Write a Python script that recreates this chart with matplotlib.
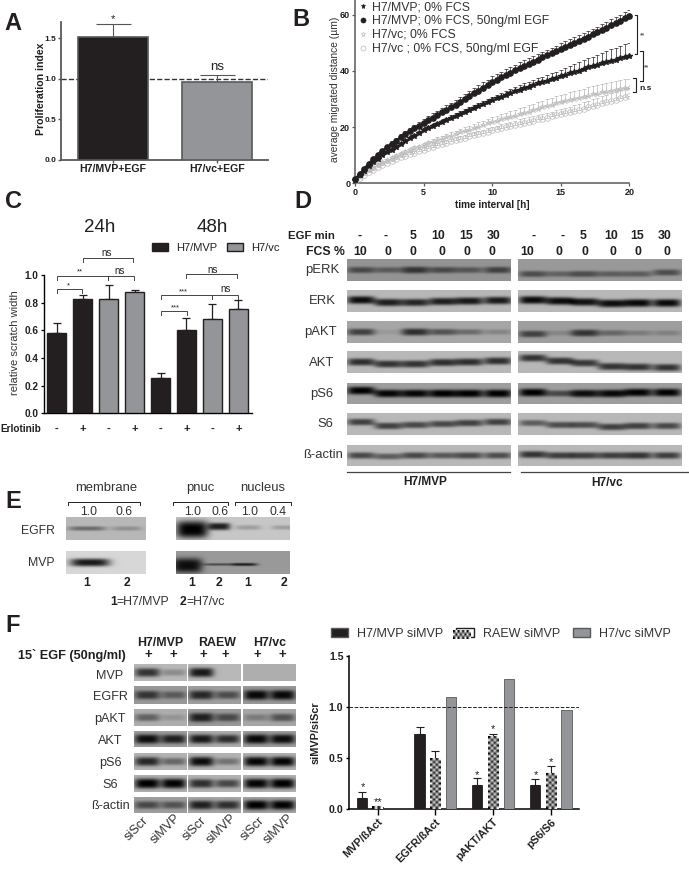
import matplotlib
matplotlib.use("Agg")
import matplotlib.pyplot as plt
from matplotlib.patches import Patch
import numpy as np

plt.rcParams['font.family'] = ['Liberation Sans', 'DejaVu Sans']

W, H = 689, 874
BLACK = '#231f20'
GREY = '#939598'
EDGE = '#414042'

# panel A
a_labels = ['H7/MVP+EGF', 'H7/vc+EGF']
a_values = [1.51, 0.96]
a_errors = [0.17, 0.085]

# panel B, one point every 20 min
b_time = np.arange(61) / 3
b_mvp = [1.0, 2.8, 4.5, 6.0, 7.4, 8.8, 10.0, 11.0, 12.0, 13.0, 14.0, 15.0, 16.0, 17.0, 17.9, 18.8,
         19.5, 20.3, 21.0, 21.8, 22.5, 23.3, 24.0, 24.8, 25.5, 26.2, 26.8, 27.5, 28.2, 28.8, 29.5,
         30.2, 30.8, 31.5, 32.1, 32.7, 33.3, 33.9, 34.4, 35.0, 35.5, 36.0, 36.5, 37.0, 37.5, 38.0,
         38.5, 39.1, 39.6, 40.1, 40.7, 41.2, 41.7, 42.2, 42.7, 43.1, 43.6, 44.0, 44.4, 44.9, 45.3]
b_mvp_err = [0.1, 0.2, 0.2, 0.3, 0.3, 0.4, 0.4, 0.5, 0.5, 0.5, 0.6, 0.6, 0.6, 0.7, 0.7, 0.7,
             0.8, 0.8, 0.8, 0.8, 0.9, 0.9, 0.9, 0.9, 1.0, 1.0, 1.0, 1.0, 1.1, 1.1, 1.1,
             1.2, 1.3, 1.3, 1.4, 1.5, 1.5, 1.6, 1.7, 1.7, 1.8, 1.9, 2.0, 2.1, 2.2, 2.4,
             2.5, 2.6, 2.7, 2.9, 3.0, 3.2, 3.4, 3.5, 3.7, 3.9, 4.0, 4.2, 4.3, 4.5, 4.6]
b_mvp_egf = [1.5, 3.2, 5.2, 7.0, 8.6, 10.1, 11.5, 12.8, 14.0, 15.2, 16.3, 17.4, 18.5, 19.5, 20.5, 21.5,
             22.4, 23.4, 24.3, 25.2, 26.1, 27.0, 28.0, 29.0, 30.0, 31.0, 32.0, 33.0, 34.0, 35.0, 36.0,
             36.8, 37.7, 38.5, 39.3, 40.2, 41.0, 41.8, 42.5, 43.3, 44.0, 44.8, 45.5, 46.3, 47.0, 47.8,
             48.5, 49.3, 50.0, 50.7, 51.5, 52.2, 53.0, 53.7, 54.5, 55.3, 56.2, 57.0, 57.8, 58.7, 59.5]
b_mvp_egf_err = [0.2, 0.3, 0.4, 0.5, 0.6, 0.7, 0.8, 0.9, 1.0, 1.0, 1.1, 1.2, 1.2, 1.3, 1.3, 1.4,
                 1.4, 1.5, 1.5, 1.6, 1.6, 1.7, 1.7, 1.7, 1.8, 1.8, 1.8, 1.9, 1.9, 1.9, 2.0,
                 2.0, 2.0, 2.0, 2.0, 2.0, 2.0, 2.0, 2.0, 2.0, 2.0, 2.0, 2.0, 2.0, 2.0, 2.0,
                 2.0, 2.0, 2.0, 2.0, 2.0, 2.0, 2.0, 2.0, 2.1, 2.1, 2.1, 2.1, 2.2, 2.2, 2.2]
b_vc = [0.8, 2.2, 3.6, 4.8, 5.8, 6.7, 7.5, 8.3, 9.1, 9.8, 10.5, 11.2, 11.8, 12.4, 13.0, 13.6,
        14.2, 14.8, 15.4, 15.9, 16.5, 17.0, 17.5, 18.1, 18.6, 19.1, 19.7, 20.2, 20.7, 21.3, 21.8,
        22.3, 22.7, 23.2, 23.7, 24.1, 24.6, 25.1, 25.5, 26.0, 26.5, 27.0, 27.5, 27.9, 28.4, 28.8,
        29.2, 29.6, 30.0, 30.4, 30.8, 31.2, 31.6, 31.9, 32.3, 32.6, 32.9, 33.2, 33.5, 33.8, 34.0]
b_vc_err = [0.1, 0.2, 0.2, 0.3, 0.3, 0.4, 0.4, 0.5, 0.5, 0.6, 0.6, 0.6, 0.7, 0.7, 0.8, 0.9,
            0.9, 1.0, 1.0, 1.1, 1.1, 1.2, 1.2, 1.3, 1.3, 1.4, 1.4, 1.5, 1.6, 1.7, 1.8,
            1.8, 1.9, 1.9, 2.0, 2.0, 2.1, 2.1, 2.2, 2.2, 2.3, 2.3, 2.4, 2.5, 2.5, 2.6,
            2.6, 2.7, 2.7, 2.8, 2.8, 2.9, 2.9, 3.0, 3.0, 3.0, 3.1, 3.1, 3.1, 3.2, 3.2]
b_vc_egf = [0.6, 1.8, 3.0, 4.0, 4.9, 5.7, 6.5, 7.2, 7.9, 8.6, 9.2, 9.8, 10.4, 10.9, 11.5, 12.0,
            12.5, 13.0, 13.5, 14.0, 14.4, 14.9, 15.3, 15.8, 16.2, 16.7, 17.1, 17.5, 17.9, 18.4, 18.8,
            19.2, 19.6, 20.0, 20.4, 20.8, 21.2, 21.6, 21.9, 22.3, 22.7, 23.0, 23.4, 23.8, 24.2, 24.6,
            25.0, 25.4, 25.8, 26.2, 26.6, 27.0, 27.5, 27.9, 28.4, 28.8, 29.3, 29.7, 30.2, 30.6, 31.0]
b_vc_egf_err = [0.1, 0.2, 0.2, 0.2, 0.3, 0.3, 0.3, 0.4, 0.4, 0.4, 0.5, 0.5, 0.6, 0.6, 0.7, 0.8,
                0.8, 0.8, 0.9, 0.9, 0.9, 1.0, 1.0, 1.0, 1.1, 1.1, 1.1, 1.2, 1.2, 1.3, 1.3,
                1.3, 1.4, 1.4, 1.4, 1.5, 1.5, 1.5, 1.6, 1.6, 1.6, 1.7, 1.7, 1.7, 1.8, 1.8,
                1.9, 1.9, 2.0, 2.1, 2.2, 2.3, 2.4, 2.5, 2.6, 2.7, 2.8, 2.8, 2.9, 3.0, 3.0]

# panel C
c_values = [0.58, 0.83, 0.83, 0.88, 0.255, 0.60, 0.68, 0.755]
c_errors = [0.07, 0.025, 0.095, 0.015, 0.035, 0.09, 0.11, 0.065]
c_colors = [BLACK, BLACK, GREY, GREY, BLACK, BLACK, GREY, GREY]
c_erlotinib = ['-', '+', '-', '+', '-', '+', '-', '+']

# panel F chart
f_groups = ['MVP/ßAct', 'EGFR/ßAct', 'pAKT/AKT', 'pS6/S6']
f_mvp = [0.115, 0.735, 0.24, 0.235]
f_mvp_err = [0.05, 0.065, 0.065, 0.065]
f_raew = [0.025, 0.49, 0.71, 0.35]
f_raew_err = [0.005, 0.075, 0.025, 0.07]
f_vc = [0.0, 1.10, 1.275, 0.965]

# blots, grey level of each band
d_rows = ['pERK', 'ERK', 'pAKT', 'AKT', 'pS6', 'S6', 'ß-actin']
d_bg_left = [0.58, 0.72, 0.65, 0.72, 0.62, 0.72, 0.72]
d_bg_right = [0.60, 0.72, 0.62, 0.72, 0.62, 0.72, 0.72]
d_left = [[0.28, 0.35, 0.20, 0.28, 0.33, 0.25],
          [0.05, 0.12, 0.15, 0.12, 0.10, 0.10],
          [0.25, 0.60, 0.18, 0.32, 0.42, 0.52],
          [0.18, 0.20, 0.20, 0.18, 0.18, 0.18],
          [0.00, 0.02, 0.02, 0.00, 0.00, 0.00],
          [0.25, 0.25, 0.28, 0.28, 0.25, 0.25],
          [0.28, 0.36, 0.28, 0.34, 0.28, 0.30]]
d_right = [[0.30, 0.38, 0.30, 0.36, 0.36, 0.30],
           [0.04, 0.05, 0.07, 0.05, 0.03, 0.04],
           [0.25, 0.52, 0.20, 0.40, 0.48, 0.50],
           [0.20, 0.20, 0.22, 0.20, 0.20, 0.20],
           [0.00, 0.28, 0.05, 0.03, 0.01, 0.01],
           [0.36, 0.30, 0.30, 0.25, 0.25, 0.28],
           [0.20, 0.24, 0.24, 0.24, 0.20, 0.24]]
# how far each band sits from the middle of its strip
d_shift_left = [[0, 0, 0, 0, 0, 0], [-1, 1.5, 1.5, 0.5, 0, -0.5], [0, 0, 0, 0, 0, 0], [0, 2, 2, 0.5, 0, -1],
                [-3, 0, 0, 0, 0, 0], [-2, 2, 1, 0, -1, -2], [0, 1, 0, 0, 0, 0]]
d_shift_right = [[4, 4, 4, 4, 4, 2.5], [-1, 0, 1, 2.5, 2, 2], [2, 1, 1, 1, 1, 1], [-4, -1, 1, 4.5, 5, 5.5],
                 [-1, 0, 0, 0, -1, -1], [-1, 1, 1, 3, 2, 2], [-1, 0, 0, 0, 0, 0]]
d_egf = ['-', '-', '5', '10', '15', '30']
d_fcs = ['10', '0', '0', '0', '0', '0']

f_rows = ['MVP', 'EGFR', 'pAKT', 'AKT', 'pS6', 'S6', 'ß-actin']
f_bg = [[0.72, 0.72, 0.68], [0.60, 0.62, 0.60], [0.68, 0.60, 0.65], [0.62, 0.68, 0.62],
        [0.70, 0.70, 0.70], [0.70, 0.70, 0.70], [0.62, 0.65, 0.65]]
f_bands = [[[0.20, 0.55], [0.10, 0.72], [0.68, 0.68]],
           [[0.20, 0.35], [0.15, 0.30], [0.03, 0.03]],
           [[0.38, 0.58], [0.12, 0.28], [0.48, 0.32]],
           [[0.05, 0.12], [0.10, 0.18], [0.03, 0.05]],
           [[0.15, 0.40], [0.05, 0.45], [0.02, 0.02]],
           [[0.00, 0.01], [0.18, 0.28], [0.02, 0.00]],
           [[0.28, 0.32], [0.12, 0.18], [0.00, 0.01]]]

fig = plt.figure(figsize=(W / 100, H / 100), dpi=100)

over = fig.add_axes([0, 0, 1, 1], zorder=5)
over.axis('off')


def px_axes(x0, y0, x1, y1):
    # axes from pixel box of the picture, y counted from the top
    ax = fig.add_axes([x0 / W, 1 - y1 / H, (x1 - x0) / W, (y1 - y0) / H])
    ax.patch.set_alpha(0)
    ax.spines[['top', 'right']].set_visible(False)
    return ax


def label(x, y, s, size=8, weight='normal', color=BLACK, ha='center', rot=0):
    over.text(x, y, s, fontsize=size, fontweight=weight, color=color, ha=ha, va='center',
              rotation=rot, rotation_mode='anchor')


def bracket(x0, x1, y, drop=4, color='#444444'):
    over.plot([x0, x0, x1, x1], [y + drop, y, y, y + drop], color=color, lw=0.7, solid_joinstyle='miter')


def blot(x0, y0, x1, y1, bg, grays, centers=None, sig=3.6, hw=None, sigs=None, shifts=None):
    w = int((x1 - x0) * 2)
    h = int((y1 - y0) * 2)
    xx = np.linspace(x0, x1, w)
    yy = np.linspace(y0, y1, h)
    n = len(grays)
    step = (x1 - x0) / n
    if centers is None:
        centers = [x0 + step * (i + 0.5) for i in range(n)]
    if hw is None:
        hw = step * 0.47
    img = np.full((h, w), float(bg))
    yc = (y0 + y1) / 2
    for i, g in enumerate(grays):
        # pale bands are thinner than the dark ones
        s = sig * (0.62 + 0.5 * (1 - g / bg)) if sigs is None else sigs[i]
        hwi = hw if np.isscalar(hw) else hw[i]
        dy = 0 if shifts is None else shifts[i]
        xp = np.exp(-((xx - centers[i]) / hwi) ** 4)
        yp = np.exp(-np.abs((yy - yc - dy) / s) ** 3)
        img += (g - bg) * np.outer(yp, xp)
    over.imshow(np.clip(img, 0, 1), extent=(x0, x1, y1, y0), cmap='gray', vmin=0, vmax=1,
                aspect='auto', interpolation='bilinear')


# A
ax_a = px_axes(61, 22, 268, 159.5)
ax_a.axhline(1.0, color='#333333', lw=1.0, ls='--', zorder=1)
ax_a.errorbar([0, 1], a_values, yerr=[[0, 0], a_errors], fmt='none', ecolor='#555555', elinewidth=0.8,
              capsize=12.6, capthick=0.8, zorder=2)
ax_a.bar([0, 1], a_values, width=0.67, color=[BLACK, GREY], edgecolor='#58595b', linewidth=1.2, zorder=3)
ax_a.set_xlim(-0.5, 1.49)
ax_a.set_ylim(0, 1.70)
ax_a.set_yticks([0, 0.5, 1.0, 1.5])
ax_a.set_yticklabels(['0.0', '0.5', '1.0', '1.5'], fontsize=6, fontweight='bold', color=BLACK)
ax_a.set_xticks([0, 1])
ax_a.set_xticklabels(a_labels, fontsize=7.6, fontweight='bold', color=BLACK)
ax_a.tick_params(length=2, width=1, pad=1.5, color='#58595b')
ax_a.spines[['left', 'bottom']].set_linewidth(1.3)
ax_a.spines[['left', 'bottom']].set_color('#58595b')
label(40.7, 89, 'Proliferation index', 7.6, 'bold', rot=90)
label(113, 19, '*', 8)
label(216.7, 66.5, 'ns', 9.5)

# B
ax_b = px_axes(355, 0, 629.3, 183.3)
vc_grey = '#b8b8b8'
ax_b.errorbar(b_time, b_vc, yerr=[np.zeros(61), b_vc_err], fmt='none', ecolor=vc_grey, elinewidth=0.5,
              capsize=1.6, capthick=0.5, zorder=2)
ax_b.errorbar(b_time, b_vc_egf, yerr=[np.zeros(61), b_vc_egf_err], fmt='none', ecolor=vc_grey, elinewidth=0.5,
              capsize=1.6, capthick=0.5, zorder=2)
ax_b.plot(b_time, b_vc, ls='none', marker='*', ms=4.4, mfc='none', mec=vc_grey, mew=0.5, zorder=3,
          label='H7/vc; 0% FCS')
ax_b.plot(b_time, b_vc_egf, ls='none', marker='o', ms=4, mfc='none', mec=vc_grey, mew=0.5, zorder=3,
          label='H7/vc ; 0% FCS, 50ng/ml EGF')
ax_b.errorbar(b_time, b_mvp, yerr=[np.zeros(61), b_mvp_err], fmt='none', ecolor=BLACK, elinewidth=0.5,
              capsize=1.6, capthick=0.5, zorder=4)
ax_b.errorbar(b_time, b_mvp_egf, yerr=[np.zeros(61), b_mvp_egf_err], fmt='none', ecolor=BLACK, elinewidth=0.5,
              capsize=1.6, capthick=0.5, zorder=4)
ax_b.plot(b_time, b_mvp, ls='-', lw=1.0, marker='*', ms=4.4, color=BLACK, zorder=5, clip_on=False,
          label='H7/MVP; 0% FCS')
ax_b.plot(b_time, b_mvp_egf, ls='-', lw=1.6, marker='o', ms=3.8, color=BLACK, zorder=5, clip_on=False,
          label='H7/MVP; 0% FCS, 50ng/ml EGF')
ax_b.set_xlim(0, 20)
ax_b.set_ylim(0, 65.2)
ax_b.set_xticks([0, 5, 10, 15, 20])
ax_b.set_yticks([0, 20, 40, 60])
ax_b.tick_params(length=2, width=0.9, pad=1.5, labelsize=6.5, color='#58595b', labelcolor=BLACK)
plt.setp(ax_b.get_xticklabels() + ax_b.get_yticklabels(), fontweight='bold')
ax_b.spines[['left', 'bottom']].set_linewidth(1.1)
ax_b.spines[['left', 'bottom']].set_color('#58595b')
handles, labels = ax_b.get_legend_handles_labels()
order = [2, 3, 0, 1]
b_handles = [plt.Line2D([], [], ls='none', marker=handles[i].get_marker(), ms=3.6, mfc=handles[i].get_mfc(),
                        mec=handles[i].get_mec(), mew=0.5) for i in order]
ax_b.legend(b_handles, [labels[i] for i in order], loc='upper left',
            bbox_to_anchor=(357, 1), bbox_transform=over.transData, fontsize=8.8, frameon=False,
            borderpad=0, borderaxespad=0, labelspacing=0.16, handlelength=0.9, handletextpad=0.3,
            labelcolor='#333333')
label(335, 89, 'average migrated distance (µm)', 7.4, color='#333333', rot=90)
label(492, 205, 'time interval [h]', 7.2, 'bold')
for bx0, bx1, by0, by1 in [(635, 637, 15, 54), (640, 642.5, 51, 81), (632.5, 635.5, 78, 92)]:
    over.plot([bx0, bx1, bx1, bx0], [by0, by0, by1, by1], color=BLACK, lw=0.8)
label(642.5, 36, '**', 5)
label(647, 68, '**', 5)
label(646, 88, 'n.s', 6, 'bold')

# C
ax_c = px_axes(44, 260, 252, 413.3)
c_x = np.arange(8)
ax_c.errorbar(c_x, c_values, yerr=[np.zeros(8), c_errors], fmt='none', ecolor=BLACK, elinewidth=0.9,
              capsize=3.2, capthick=0.9, zorder=2)
ax_c.bar(c_x, c_values, width=0.7, color=c_colors, edgecolor=BLACK, linewidth=1.0, zorder=3)
ax_c.set_xlim(-12.5 / 26, 7 + 13.5 / 26)
ax_c.set_ylim(0, 153.3 / 138.3)
ax_c.set_yticks([0, 0.2, 0.4, 0.6, 0.8, 1.0])
ax_c.set_yticklabels(['0.0', '0.2', '0.4', '0.6', '0.8', '1.0'], fontsize=7.2, fontweight='bold', color=BLACK)
ax_c.set_xticks(c_x)
ax_c.set_xticklabels(c_erlotinib, fontsize=8, fontweight='bold', color=BLACK)
ax_c.tick_params(axis='y', length=2.5, width=0.9, pad=1.5)
ax_c.tick_params(axis='x', length=0, pad=7.5)
ax_c.spines['left'].set_bounds(0, 1.0)
ax_c.spines[['left', 'bottom']].set_linewidth(1.0)
ax_c.legend(handles=[Patch(facecolor=BLACK, edgecolor=BLACK, label='H7/MVP'),
                     Patch(facecolor=GREY, edgecolor=BLACK, label='H7/vc')],
            loc='center left', bbox_to_anchor=(152, 248), bbox_transform=over.transData, ncol=2,
            fontsize=8, frameon=False, borderpad=0, borderaxespad=0, handlelength=1.45, handleheight=0.8,
            handletextpad=0.7, columnspacing=0.9, labelcolor=BLACK)
label(15, 343, 'relative scratch width', 8, color='#333333', rot=90)
label(21, 429, 'Erlotinib', 7.2, 'bold')
label(100, 227, '24h', 13.5)
label(212.7, 227, '48h', 13.5)
bracket(83, 133, 258)
bracket(57, 108, 276)
bracket(108, 134, 276)
bracket(57, 82, 288.7)
bracket(186, 236.7, 274.3)
bracket(161, 211.7, 294.7)
bracket(212, 238, 294.7)
bracket(161, 186.7, 310.7)
label(107, 253, 'ns', 7)
label(120, 271, 'ns', 7)
label(213, 270, 'ns', 7)
label(225.7, 289, 'ns', 7)
label(80, 272, '**', 5.5)
label(68, 285.5, '*', 5.5)
label(183, 292, '***', 5.5)
label(175, 308, '***', 5.5)

# D
d_y = [(259.3, 280.7), (290, 311.7), (321.3, 342.7), (352, 373.3), (383.3, 404.3), (413, 435), (445, 466)]
d_label_x = [322, 322, 320.5, 322, 322, 325.5, 323]
d_centers_l = [360.7, 388, 415, 442.7, 469, 498]
d_centers_r = [533, 560, 585, 612, 638, 667]
for i, name in enumerate(d_rows):
    y0, y1 = d_y[i]
    blot(346.7, y0, 510.7, y1, d_bg_left[i], d_left[i], centers=d_centers_l, hw=14, shifts=d_shift_left[i])
    blot(518.3, y0, 681.7, y1, d_bg_right[i], d_right[i], centers=d_centers_r, hw=14, shifts=d_shift_right[i])
    label(d_label_x[i], (y0 + y1) / 2, name, 9.4, color='#333333')
label(311.5, 236, 'EGF min', 8.2, 'bold')
label(325, 251.7, 'FCS %', 8.8, 'bold')
d_egf_x = [360, 386, 412.7, 437.7, 466, 494, 533.3, 562.7, 582.7, 611, 636.7, 665]
d_fcs_x = [360, 387.7, 413, 441.7, 466.7, 491.7, 527, 559, 585, 613, 638, 667]
for x, s in zip(d_egf_x, d_egf + d_egf):
    label(x, 236, s, 8.8, 'bold')
for x, s in zip(d_fcs_x, d_fcs + d_fcs):
    label(x, 251.7, s, 8.8, 'bold')
over.plot([346.7, 510], [471.7, 471.7], color='#444444', lw=0.9)
over.plot([521, 688], [471.7, 471.7], color='#444444', lw=0.9)
label(425, 482, 'H7/MVP', 8.6, 'bold')
label(606.7, 483, 'H7/vc', 8.6, 'bold')

# E
e_lanes_m = [87, 127]
e_lanes_n = [191.7, 219, 248, 284]
blot(66, 517.7, 146, 540, 0.72, [0.42, 0.56], centers=e_lanes_m, hw=[19, 15], sigs=[2.2, 2.2])
blot(66, 551, 146, 574, 0.84, [0.10, 0.84], centers=[90, 127], hw=[20, 15], sigs=[4.0, 3.0])
blot(175.7, 517.7, 289.5, 540, 0.78, [0.0, 0.12, 0.62, 0.62], centers=e_lanes_n, hw=[16, 11, 13, 13],
     sigs=[8.5, 3.6, 2.4, 2.2], shifts=[1, -2, -1, -1])
blot(175.7, 551, 289.5, 574, 0.60, [0.05, 0.28, 0.12, 0.60], centers=[187, 218, 244, 284],
     hw=[15, 15, 13, 12], sigs=[7.5, 1.2, 1.5, 1.5], shifts=[3, 2, 2, 0])
for x, s in [(106, 'membrane'), (200, 'pnuc'), (263, 'nucleus')]:
    label(x, 488, s, 9.4, color='#333333')
bracket(68, 140, 501.7, 3, BLACK)
bracket(172.7, 228.3, 501.7, 3, BLACK)
bracket(235, 290.7, 501.7, 3, BLACK)
for x, s in [(89, '1.0'), (124, '0.6'), (193, '1.0'), (220, '0.6'), (250, '1.0'), (277.7, '0.4')]:
    label(x, 512, s, 8.8, color='#333333')
label(38, 531, 'EGFR', 8.8, color='#333333')
label(41, 562.7, 'MVP', 8.8, color='#333333')
for x, s in zip(e_lanes_m + e_lanes_n, ['1', '2', '1', '2', '1', '2']):
    label(x, 583, s, 8.8, 'bold')
label(110, 601.7, '1', 8.8, 'bold', ha='left')
label(116.5, 601.7, '=H7/MVP', 8.8, color='#333333', ha='left')
label(180, 601.7, '2', 8.8, 'bold', ha='left')
label(186.5, 601.7, '=H7/vc', 8.8, color='#333333', ha='left')

# F blots
f_y = [(665, 681.3), (686.7, 704), (709.7, 726), (731.7, 747.3), (753.3, 770), (775.3, 791.7), (796.7, 812.7)]
f_x = [(134.3, 186.7), (188.3, 241), (243.3, 296)]
f_label_y = [676, 697.3, 719.3, 741.3, 763.3, 784.7, 806]
for i, name in enumerate(f_rows):
    for j, (x0, x1) in enumerate(f_x):
        blot(x0, f_y[i][0], x1, f_y[i][1], f_bg[i][j], f_bands[i][j], hw=12.5, sig=4.4)
    label(110, f_label_y[i], name, 9.1, color='#333333')
label(160, 642.7, 'H7/MVP', 8.9, 'bold')
label(216.7, 642.7, 'RAEW', 8.9, 'bold')
label(269.3, 642.7, 'H7/vc', 8.9, 'bold')
label(71.7, 656, '15` EGF (50ng/ml)', 9.2, 'bold')
for x in [148.3, 173, 203, 225, 257, 282.7]:
    label(x, 655, '+', 9.5, 'bold')
f_lane_names = ['siScr', 'siMVP', 'siScr', 'siMVP', 'siScr', 'siMVP']
f_lane_x = [136.7, 165, 195, 221.7, 253, 278]
for x, s in zip(f_lane_x, f_lane_names):
    label(x, 829, s, 9.2, color='#333333', rot=45)

# F chart
ax_f = px_axes(349, 652, 579.3, 809.3)
f_pos = np.arange(4)
bw = 10.3 / 57.7
off = 15.7 / 57.7
ax_f.axhline(1.0, color=BLACK, lw=0.7, ls='--', zorder=4)
ax_f.errorbar(f_pos - off, f_mvp, yerr=[np.zeros(4), f_mvp_err], fmt='none', ecolor=BLACK, elinewidth=0.8,
              capsize=2.6, capthick=0.8, zorder=2)
ax_f.errorbar(f_pos, f_raew, yerr=[np.zeros(4), f_raew_err], fmt='none', ecolor=BLACK, elinewidth=0.8,
              capsize=2.6, capthick=0.8, zorder=2)
ax_f.bar(f_pos - off, f_mvp, width=bw, color=BLACK, edgecolor=BLACK, linewidth=0.6, zorder=3)
raew_bars = ax_f.bar(f_pos, f_raew, width=bw, color='white', edgecolor=BLACK, linewidth=0.6, zorder=3)
ax_f.bar(f_pos + off, f_vc, width=bw, color=GREY, edgecolor='#58595b', linewidth=0.6, zorder=3)

# checker fill for the RAEW bars
for bar_ in raew_bars:
    ny = max(int(bar_.get_height() * 102.4 / 2.6), 1)
    checker = np.indices((ny, 4)).sum(axis=0) % 2
    ax_f.imshow(checker, extent=(bar_.get_x(), bar_.get_x() + bar_.get_width(), 0, bar_.get_height()),
                cmap='gray', vmin=0, vmax=1, aspect='auto', interpolation='bilinear', zorder=3.5)

ax_f.set_xlim(-(377.5 - 349) / 57.7, 3 + (579.3 - 550.7) / 57.7)
ax_f.set_ylim(0, 157.3 / 102.4)
ax_f.set_yticks([0, 0.5, 1.0, 1.5])
ax_f.set_yticklabels(['0.0', '0.5', '1.0', '1.5'], fontsize=7.6, fontweight='bold', color=BLACK)
ax_f.set_xticks(f_pos)
ax_f.set_xticklabels(f_groups, fontsize=7.8, fontweight='bold', color=BLACK, rotation=45, ha='right',
                     rotation_mode='anchor')
ax_f.tick_params(length=4, width=1.0, pad=1.5)
ax_f.tick_params(axis='y', length=2.5)
ax_f.spines['left'].set_bounds(0, 1.5)
ax_f.spines[['left', 'bottom']].set_linewidth(1.1)
ax_f.legend(handles=[Patch(facecolor=BLACK, edgecolor='#58595b', label='H7/MVP siMVP'),
                     Patch(facecolor='white', edgecolor=BLACK, label='RAEW siMVP'),
                     Patch(facecolor=GREY, edgecolor='#58595b', label='H7/vc siMVP')],
            loc='center left', bbox_to_anchor=(330.7, 634), bbox_transform=over.transData, ncol=3,
            fontsize=9.0, frameon=False, borderpad=0, borderaxespad=0, handlelength=1.4, handleheight=0.7,
            handletextpad=0.7, columnspacing=1.05, labelcolor='#333333')
over.imshow(np.indices((3, 8)).sum(axis=0) % 2, extent=(453, 470.7, 639.3, 630.7), cmap='gray', vmin=0, vmax=1,
            aspect='auto', interpolation='bilinear')
label(316, 733, 'siMVP/siScr', 7.8, 'bold', rot=90)
for x, y, s in [(362.7, 787, '*'), (377.7, 802, '**'), (477.3, 775, '*'), (492.7, 729.5, '*'),
                (535.7, 775.5, '*'), (551, 762, '*')]:
    label(x, y, s, 8)

# panel letters
for x, y, s in [(13, 24, 'A'), (301, 20, 'B'), (13, 202, 'C'), (303, 201.7, 'D'), (13, 501.7, 'E'), (13, 625, 'F')]:
    label(x, y, s, 17, 'bold')

over.set_xlim(0, W)
over.set_ylim(H, 0)
fig.savefig('out.png', dpi=100)
